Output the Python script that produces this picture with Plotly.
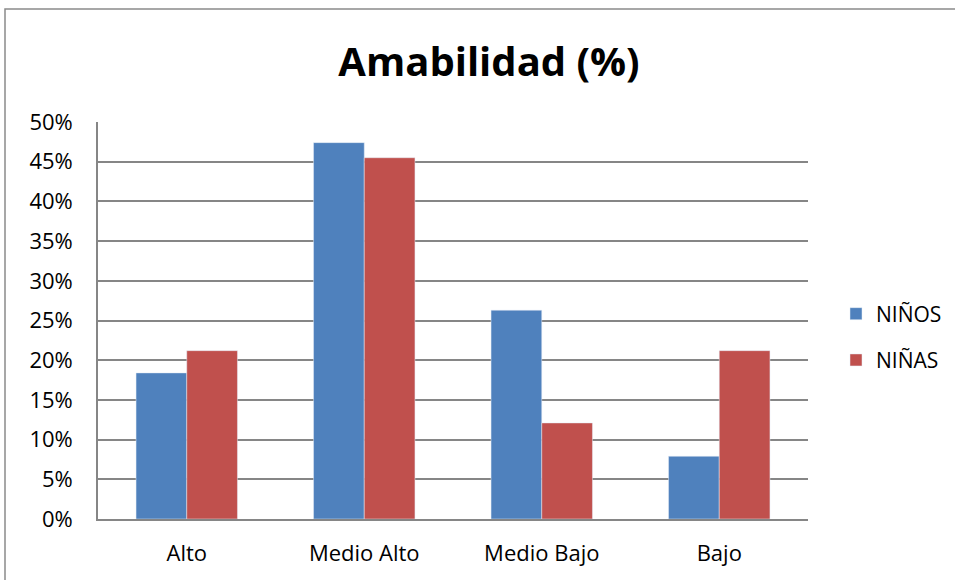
import plotly.graph_objects as go

categories = ["Alto", "Medio Alto", "Medio Bajo", "Bajo"]
ninos = [18.4, 47.4, 26.3, 7.9]
ninas = [21.2, 45.5, 12.1, 21.2]
y_ticks = [0, 5, 10, 15, 20, 25, 30, 35, 40, 45, 50]
y_labels = [f"{v}%" for v in y_ticks]

FONT = "Open Sans"
W, H = 955, 580
L, R, T, B = 98, 808, 122, 519

fig = go.Figure()
fig.add_trace(go.Bar(name="NIÑOS", x=categories, y=ninos, marker_color="#4F81BD",
                     legendgroup="a"))
fig.add_trace(go.Bar(name="NIÑAS", x=categories, y=ninas, marker_color="#C0504D",
                     legendgroup="b"))

pw, ph = R - L, B - T
fig.add_shape(type="rect", xref="paper", yref="paper",
              x0=(5 - L) / pw, x1=(W + 10 - L) / pw,
              y0=(B - (H + 10)) / ph, y1=(B - 9) / ph,
              line=dict(color="#8a8a8a", width=1.5), layer="below")

fig.update_layout(
    width=W, height=H,
    margin=dict(l=L, r=W - R, t=T, b=H - B, pad=0, autoexpand=False),
    paper_bgcolor="white", plot_bgcolor="white",
    barmode="group", bargap=0.4286, bargroupgap=0,
    title=dict(text="<b>Amabilidad (%)</b>", x=489 / W, xanchor="center",
               y=1 - 62 / H, yanchor="middle",
               font=dict(family=FONT, size=40, color="black")),
    font=dict(family=FONT, size=22, color="black"),
    showlegend=True,
    legend=dict(x=(836 - L) / pw, xanchor="left", y=(B - 337) / ph, yanchor="middle",
                font=dict(family=FONT, size=21, color="black"),
                traceorder="grouped", tracegroupgap=16,
                bgcolor="rgba(0,0,0,0)"),
)
fig.update_yaxes(range=[0, 50], tickvals=y_ticks, ticktext=y_labels,
                 showgrid=True, gridcolor="#868686", gridwidth=1.6,
                 showline=True, linecolor="#868686", linewidth=1.6,
                 ticks="outside", ticklen=19, tickcolor="rgba(0,0,0,0)",
                 tickfont=dict(family=FONT, size=22, color="black"), zeroline=False)
fig.update_xaxes(showline=True, linecolor="#868686", linewidth=1.6,
                 ticks="outside", ticklen=14, tickcolor="rgba(0,0,0,0)",
                 tickfont=dict(family=FONT, size=22, color="black"))

fig.write_html("out.html", config={"displayModeBar": False},
               post_script="document.body.style.margin='0';document.body.style.overflow='hidden';")
